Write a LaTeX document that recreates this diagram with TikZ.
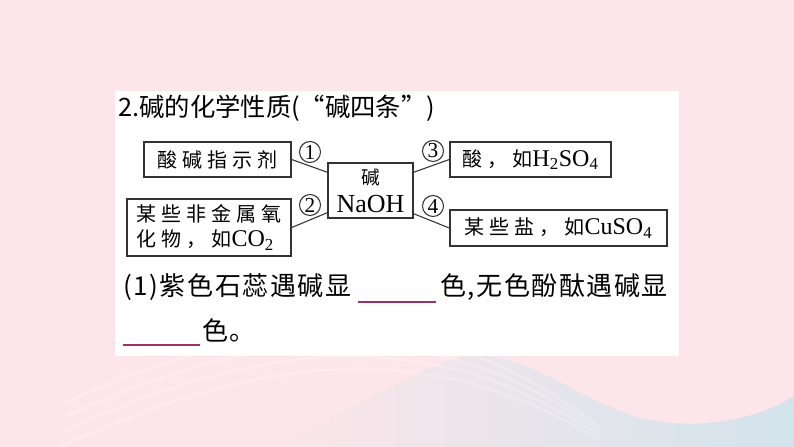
\documentclass[tikz,border=0pt]{standalone}
\usepackage{fontspec}
\usetikzlibrary{calc}
\setmainfont{Liberation Serif}
\newfontfamily\cjk{Noto Sans CJK SC}
\newfontfamily\boxcjk[LetterSpace=25]{Noto Sans CJK SC}
\newfontfamily\linecjk[LetterSpace=6]{Noto Sans CJK SC}
\newcommand\chemtx[1]{{\normalfont\fontsize{18}{19}\selectfont #1}}
\definecolor{bgpink}{HTML}{FDE6E9}
\definecolor{bgblue}{HTML}{D3E3EC}
\definecolor{blankline}{HTML}{A0306A}
\definecolor{edge}{HTML}{333333}
\tikzset{
  cbox/.style={draw=edge, line width=1.1pt, inner sep=0pt, font=\fontsize{15}{19}\selectfont},
  conn/.style={draw=edge, line width=0.8pt},
  circnum/.style={circle, draw=edge, line width=0.8pt, inner sep=0pt, minimum size=21*0.75pt, font=\fontsize{16}{16}\selectfont},
  blank/.style={draw=blankline, line width=1pt},
  linetext/.style={anchor=west, inner sep=0pt, font=\fontsize{19.5}{20}\linecjk},
}
\begin{document}
\begin{tikzpicture}[x=0.75pt,y=-0.75pt]
\useasboundingbox (0,0) rectangle (794,447);
% background
\fill[bgpink] (0,0) rectangle (794,447);
\shade[left color=bgpink, right color=bgblue]
  (260,447) .. controls (380,400) and (440,350) .. (486,356)
  .. controls (540,362) and (580,400) .. (640,418)
  .. controls (700,432) and (760,418) .. (794,396)
  -- (794,447) -- cycle;
\foreach \d in {0,14,28,42}{
  \draw[white, opacity=0.22, line width=2pt]
    (60,447-\d) .. controls (250,360-\d) and (420,330-\d) .. (600,440-\d*0.3);
}
% panel
\fill[white] (115,91) rectangle (679,356);
% title
\node[anchor=west, inner sep=0pt, font=\fontsize{19}{20}\cjk] (title) at (118,108) {2.碱的化学性质(“碱四条”)};
% boxes
\node[cbox, minimum width=147*0.75pt, minimum height=35*0.75pt] (b1) at (217.5,159.5) {\boxcjk 酸碱指示剂\hspace{-3.75pt}};
\node[cbox, minimum width=85*0.75pt, minimum height=55*0.75pt, align=center] (cb) at (370.5,190.5)
  {{\fontsize{14}{14}\cjk 碱}\\[2pt]{\fontsize{19.5}{20}\selectfont NaOH}};
\node[cbox, minimum width=161*0.75pt, minimum height=35*0.75pt] (b3) at (530.5,159.5) {\boxcjk 酸，如\chemtx{H\textsubscript{2}SO\textsubscript{4}}};
\node[cbox, minimum width=164*0.75pt, minimum height=57*0.75pt, align=left] (b2) at (209,227.5)
  {\boxcjk 某些非金属氧\hspace{-3.75pt}\\\boxcjk 化物，如\chemtx{CO\textsubscript{2}}};
\node[cbox, minimum width=217*0.75pt, minimum height=36*0.75pt] (b4) at (558.5,228) {\boxcjk 某些盐，如\chemtx{CuSO\textsubscript{4}}};
% connectors
\coordinate (c1) at ($(cb.north west)+(0,10)$);
\coordinate (c2) at ($(cb.south west)+(0,-6)$);
\coordinate (c3) at ($(cb.north east)+(0,10)$);
\coordinate (c4) at ($(cb.south east)+(0,-5)$);
\draw[conn] (b1.east) -- (c1);
\draw[conn] (b2.east) -- (c2);
\draw[conn] (c3) -- (b3.west);
\draw[conn] (c4) -- (b4.west);
% circled numbers
\node[circnum] (n1) at (310,152) {1};
\node[circnum] (n2) at (310,205) {2};
\node[circnum] (n3) at (433,151) {3};
\node[circnum] (n4) at (433,206) {4};
% question text
\node[linetext] (q1) at (123,287) {(1)紫色石蕊遇碱显};
\coordinate (u1a) at (358,302);
\coordinate (u1b) at (436,302);
\draw[blank] (u1a) -- (u1b);
\node[linetext] (q2) at (440,287) {色,无色酚酞遇碱显};
\coordinate (u2a) at (123,345);
\coordinate (u2b) at (200,345);
\draw[blank] (u2a) -- (u2b);
\node[linetext] (q3) at (202,330) {色。};
\end{tikzpicture}
\end{document}
